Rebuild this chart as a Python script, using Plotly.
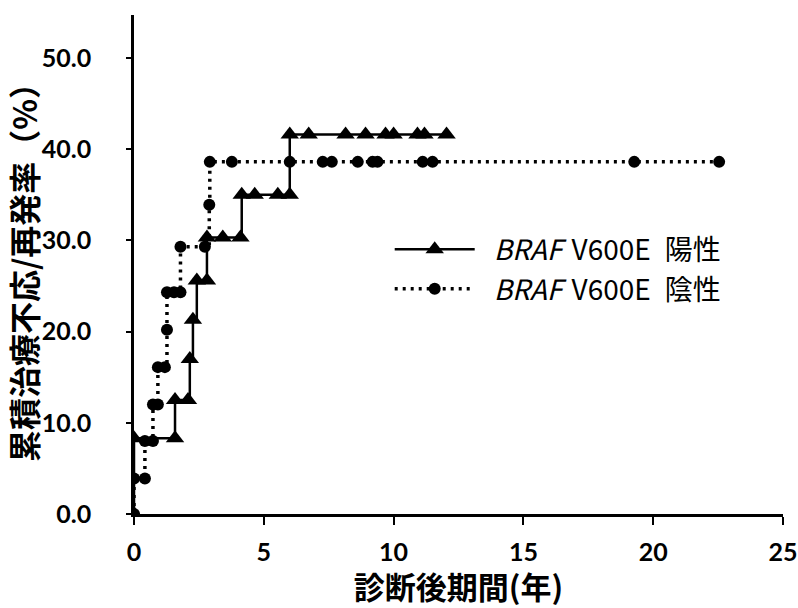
import plotly.graph_objects as go

# Positive (triangles, solid step)
pos_x = [0, 0, 1.58, 1.58, 2.08, 2.15, 2.27, 2.42, 2.81, 2.81, 3.42, 4.1, 4.15, 4.65, 5.54, 6.0, 6.0,
         6.73, 8.15, 8.92, 9.69, 10.0, 10.92, 11.19, 12.04]
pos_y = [0, 8.3, 8.3, 12.5, 12.5, 17.0, 21.3, 25.6, 25.6, 30.3, 30.3, 30.3, 35.0, 35.0, 35.0, 35.0, 41.6,
         41.6, 41.6, 41.6, 41.6, 41.6, 41.6, 41.6, 41.6]

# Negative (circles, dotted step)
neg_x = [0, 0, 0.42, 0.42, 0.73, 0.73, 0.92, 0.92, 1.19, 1.27, 1.27, 1.54, 1.79, 1.79, 2.73, 2.9, 2.92,
         3.77, 6.0, 7.27, 7.62, 8.62, 9.19, 9.38, 11.12, 11.5, 19.27, 22.54]
neg_y = [0, 3.9, 3.9, 8.0, 8.0, 12.0, 12.0, 16.1, 16.1, 20.2, 24.3, 24.3, 24.3, 29.3, 29.3, 33.9, 38.6,
         38.6, 38.6, 38.6, 38.6, 38.6, 38.6, 38.6, 38.6, 38.6, 38.6, 38.6]

series_names = ["\u2002<i>BRAF</i>\u2004V600E\u2002陽性", "\u2002<i>BRAF</i>\u2004V600E\u2002陰性"]
x_ticks = [0, 5, 10, 15, 20, 25]
y_ticks = [0, 10, 20, 30, 40, 50]
x_title = "診断後期間(年)"
y_title = "累積治療不応/再発率（%）"

fig = go.Figure()
fig.add_trace(go.Scatter(
    x=pos_x, y=pos_y, name=series_names[0], mode="lines+markers",
    line=dict(color="black", width=2.5, shape="hv"),
    marker=dict(symbol="triangle-up", size=16, color="black"),
))
fig.add_trace(go.Scatter(
    x=neg_x, y=neg_y, name=series_names[1], mode="lines+markers",
    line=dict(color="black", width=3.5, shape="hv", dash="3px,5px"),
    marker=dict(symbol="circle", size=12, color="black"),
))

font_num = "Lato"
cjk = "Noto Sans CJK JP"
fig.update_layout(
    width=798, height=608,
    margin=dict(l=134, r=15, t=15, b=94),
    plot_bgcolor="white", paper_bgcolor="white",
    showlegend=True,
    legend=dict(
        x=0.394, y=0.58, xanchor="left", yanchor="top",
        font=dict(family=cjk, size=28, color="black"),
        itemwidth=80, tracegroupgap=0, bgcolor="rgba(0,0,0,0)",
    ),
    xaxis=dict(
        range=[0, 25], tickvals=x_ticks, showgrid=False, zeroline=False, automargin=False,
        showline=True, linecolor="black", linewidth=2.5,
        ticks="outside", ticklen=8, tickwidth=2, tickcolor="black",
        tickfont=dict(family=font_num, size=25, color="black", weight="bold"),
        ticklabelstandoff=6,
        title=dict(text=x_title, font=dict(family=cjk, size=31, color="black", weight="bold"),
                   standoff=16),
    ),
    yaxis=dict(
        range=[0, 54.7], tickvals=y_ticks, tickformat=".1f",
        showgrid=False, zeroline=False, automargin=False,
        showline=True, linecolor="black", linewidth=2.5,
        ticks="outside", ticklen=5, tickwidth=2, tickcolor="black",
        tickfont=dict(family=font_num, size=25, color="black", weight="bold"),
        ticklabelstandoff=30,
        title=dict(text=y_title, font=dict(family=cjk, size=32, color="black", weight="bold"),
                   standoff=6),
    ),
)
fig.write_html(
    "out.html",
    config={"displayModeBar": False},
    post_script="document.documentElement.style.overflow='hidden';"
                "document.body.style.margin='0';document.body.style.overflow='hidden';",
)
